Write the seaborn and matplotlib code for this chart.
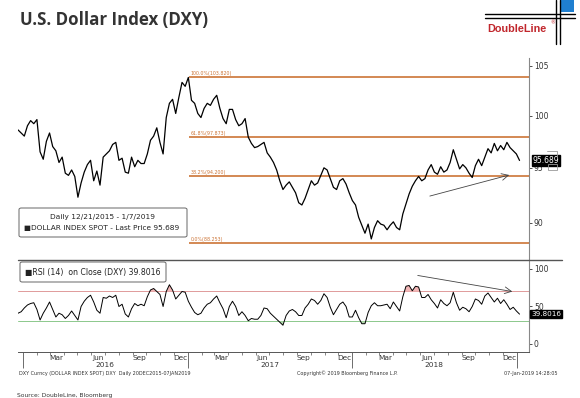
import numpy as np
import pandas as pd
import matplotlib
matplotlib.use("Agg")
import matplotlib.pyplot as plt
import matplotlib.dates as mdates
from matplotlib.ticker import FixedLocator, FuncFormatter, NullLocator
from matplotlib.patches import FancyBboxPatch, Rectangle
from matplotlib.lines import Line2D
from matplotlib.transforms import blended_transform_factory
import seaborn as sns

sns.set_theme(style="white")
plt.rcParams["font.family"] = ["DejaVu Sans"]

# ---------------- data (weekly readings, 12/21/2015 .. 1/7/2019) ----------------
start_date = "2015-12-21"
price = [
    98.6, 98.3, 98.0, 99.0, 99.5, 99.2, 99.6, 96.5, 95.8, 97.5,
    98.3, 97.0, 96.6, 95.5, 96.0, 94.5, 94.3, 94.8, 94.2, 92.3,
    93.6, 94.6, 95.3, 95.7, 93.8, 94.7, 93.4, 96.0, 96.3, 96.6,
    97.2, 97.4, 95.7, 95.9, 94.6, 94.5, 96.0, 95.1, 95.7, 95.4,
    95.4, 96.3, 97.6, 98.0, 98.8, 97.4, 96.3, 99.8, 101.2, 101.6,
    100.2, 101.8, 103.3, 102.9, 103.8, 101.5, 101.2, 100.2, 99.8, 100.7,
    101.2, 101.0, 101.6, 102.0, 100.7, 99.7, 99.2, 100.6, 100.6, 99.6,
    99.0, 99.2, 99.7, 97.9, 97.3, 96.9, 97.0, 97.2, 97.4, 96.4,
    96.0, 95.5, 94.8, 93.8, 93.0, 93.4, 93.7, 93.2, 92.7, 91.8,
    91.6, 92.2, 93.0, 93.8, 93.4, 93.6, 94.3, 95.0, 94.8, 94.0,
    93.2, 93.0, 93.8, 94.0, 93.5, 92.7, 92.0, 91.6, 90.5, 89.8,
    89.1, 89.9, 88.6, 89.6, 90.2, 89.9, 89.8, 89.4, 89.8, 90.1,
    89.6, 89.4, 90.8, 91.7, 92.6, 93.3, 93.8, 94.2, 93.8, 94.0,
    94.8, 95.3, 94.6, 94.4, 95.1, 94.6, 94.8, 95.5, 96.7, 95.8,
    94.9, 95.3, 95.0, 94.5, 94.1, 95.2, 95.8, 95.2, 96.0, 96.8,
    96.4, 97.3, 96.6, 97.1, 96.7, 97.4, 96.9, 96.6, 96.3, 95.689,
]
rsi = [
    41, 43, 48, 52, 54, 55, 46, 32, 41, 48,
    56, 46, 36, 41, 39, 34, 38, 44, 38, 32,
    50, 57, 62, 65, 56, 45, 41, 62, 61, 64,
    62, 65, 50, 53, 40, 36, 47, 54, 51, 53,
    51, 63, 72, 74, 70, 66, 50, 70, 79, 72,
    60, 65, 70, 69, 57, 49, 42, 39, 41, 48,
    53, 55, 60, 64, 55, 47, 35, 50, 57, 50,
    38, 43, 38, 31, 34, 33, 33, 38, 48, 47,
    41, 37, 33, 29, 25, 38, 44, 46, 43, 38,
    38, 48, 53, 60, 58, 53, 58, 67, 62, 49,
    39, 46, 53, 56, 50, 36, 36, 45, 35, 27,
    27, 42, 51, 55, 51, 51, 52, 53, 47, 56,
    50, 44, 63, 77, 78, 71, 77, 76, 62, 62,
    66, 59, 54, 48, 59, 54, 51, 55, 69, 55,
    45, 49, 47, 43, 50, 60, 58, 53, 64, 68,
    62, 56, 61, 54, 59, 53, 46, 49, 44, 39.8016,
]
fib_levels = [103.820, 97.873, 94.200, 88.253]
fib_labels = ["100.0%(103.820)", "61.8%(97.873)", "38.2%(94.200)", "0.0%(88.253)"]
fib_start = "2017-01-03"
price_ticks = [90, 95, 100, 105]
rsi_ticks = [0, 50, 100]
month_labels = ["Mar", "Jun", "Sep", "Dec"]
year_labels = ["2016", "2017", "2018"]
last_price = 95.689
last_rsi = 39.8016

dates = pd.date_range(start_date, periods=len(price), freq="7D")
df = pd.DataFrame({"date": dates, "price": price, "rsi": rsi})

W, H = 580, 398
fig = plt.figure(figsize=(W / 100, H / 100), dpi=100)
fig.patch.set_facecolor("white")

def fx(x):
    return x / W

def fy(y):
    return 1 - y / H

L, R = 18, 529
ax1 = fig.add_axes([fx(L), fy(260), fx(R) - fx(L), fy(58) - fy(260)])
ax2 = fig.add_axes([fx(L), fy(352), fx(R) - fx(L), fy(260) - fy(352)], sharex=ax1)

ORANGE = "#cc7436"
xmin = pd.Timestamp("2015-12-21")
xmax = pd.Timestamp("2019-01-28")

# ---------------- price panel ----------------
sns.lineplot(data=df, x="date", y="price", ax=ax1, color="black", lw=0.9)
ax1.set_yscale("log")
ax1.set_ylim(86.79, 105.80)
ax1.set_xlim(xmin, xmax)
for lvl, lab in zip(fib_levels, fib_labels):
    ax1.hlines(lvl, mdates.date2num(pd.Timestamp(fib_start)), mdates.date2num(xmax),
               color=ORANGE, lw=1.2, zorder=1)
    ax1.annotate(lab, xy=(mdates.date2num(pd.Timestamp(fib_start)), lvl), xytext=(1.5, 1),
                 textcoords="offset points", fontsize=3.4, color=ORANGE, ha="left", va="bottom")

ax1.yaxis.tick_right()
ax1.yaxis.set_major_locator(FixedLocator(price_ticks))
ax1.yaxis.set_minor_locator(NullLocator())
ax1.yaxis.set_major_formatter(FuncFormatter(lambda v, p: f"{v:g}"))
ax1.tick_params(axis="y", which="major", right=True, left=False, direction="out",
                length=2.5, width=0.6, colors="#333", labelsize=5.5, pad=1)
ax1.tick_params(axis="x", which="both", bottom=False, labelbottom=False)
ax1.set_xlabel("")
ax1.set_ylabel("")
for s in ["left", "top", "bottom"]:
    ax1.spines[s].set_visible(False)
ax1.spines["right"].set_color("#888")
ax1.spines["right"].set_linewidth(0.8)

# trend arrow on price
ax1.annotate("", xy=(mdates.date2num(pd.Timestamp("2018-12-21")), 94.40),
             xytext=(mdates.date2num(pd.Timestamp("2018-06-16")), 92.34),
             arrowprops=dict(arrowstyle="->", color="#444", lw=0.6))

ax1.annotate(f"{last_price:.3f}", xy=(1.0, last_price), xycoords=("axes fraction", "data"),
             xytext=(2.5, 0), textcoords="offset points", ha="left", va="center",
             color="white", fontsize=5.5,
             bbox=dict(boxstyle="square,pad=0.12", fc="black", ec="black"))

# ---------------- RSI panel ----------------
sns.lineplot(data=df, x="date", y="rsi", ax=ax2, color="black", lw=0.7)
ax2.axhline(70, color="#e09a9a", lw=0.7, zorder=0)
ax2.axhline(30, color="#8cc88c", lw=0.7, zorder=0)
r = np.array(rsi, dtype=float)
ax2.fill_between(df["date"], r, 70, where=r > 70, interpolate=True, color="#f2b6b6", lw=0)
ax2.fill_between(df["date"], r, 30, where=r < 30, interpolate=True, color="#b6dcb0", lw=0)
ax2.set_ylim(-10.7, 112)
ax2.set_xlim(xmin, xmax)
ax2.yaxis.tick_right()
ax2.yaxis.set_major_locator(FixedLocator(rsi_ticks))
ax2.yaxis.set_major_formatter(FuncFormatter(lambda v, p: f"{v:g}"))
ax2.tick_params(axis="y", which="major", right=True, left=False, direction="out",
                length=2.5, width=0.6, colors="#333", labelsize=5.5, pad=1)
ax2.set_xlabel("")
ax2.set_ylabel("")
for s in ["left", "top"]:
    ax2.spines[s].set_visible(False)
ax2.spines["right"].set_color("#888")
ax2.spines["right"].set_linewidth(0.8)
ax2.spines["bottom"].set_color("#555")
ax2.spines["bottom"].set_linewidth(0.7)

ax2.xaxis.set_major_locator(mdates.YearLocator())
ax2.xaxis.set_minor_locator(mdates.MonthLocator())
ax2.xaxis.set_major_formatter(FuncFormatter(lambda v, p: ""))
ax2.tick_params(axis="x", which="major", bottom=True, direction="out", length=11.5,
                width=0.6, colors="#555")
ax2.tick_params(axis="x", which="minor", bottom=True, direction="out", length=2.2,
                width=0.5, colors="#555")

trans = blended_transform_factory(ax2.transData, ax2.transAxes)
for yr in year_labels:
    for m, lab in zip([3, 6, 9, 12], month_labels):
        d = mdates.date2num(pd.Timestamp(int(yr), m, 15))
        ax2.text(d, -0.06, lab, transform=trans, ha="center", va="center",
                 fontsize=5.3, color="#333")
    ax2.text(mdates.date2num(pd.Timestamp(int(yr), 7, 1)), -0.145, yr, transform=trans,
             ha="center", va="center", fontsize=5.3, color="#333")

ax2.annotate("", xy=(mdates.date2num(pd.Timestamp("2018-12-28")), 69.3),
             xytext=(mdates.date2num(pd.Timestamp("2018-05-20")), 92),
             arrowprops=dict(arrowstyle="->", color="#444", lw=0.6))

ax2.annotate(f"{last_rsi:.4f}", xy=(1.0, last_rsi), xycoords=("axes fraction", "data"),
             xytext=(1.5, 0), textcoords="offset points", ha="left", va="center",
             color="white", fontsize=5.2,
             bbox=dict(boxstyle="square,pad=0.12", fc="black", ec="black"))

# ---------------- figure decorations ----------------
fig.add_artist(Line2D([fx(18), fx(562)], [fy(260), fy(260)], color="#555", lw=1.0))

fig.add_artist(FancyBboxPatch((fx(19), fy(237)), fx(187) - fx(19), fy(208) - fy(237),
                              boxstyle="round,pad=0,rounding_size=0.004",
                              fc="white", ec="#666", lw=0.7))
fig.text(fx(103), fy(216.5), "Daily 12/21/2015 - 1/7/2019", ha="center", va="center",
         fontsize=5.3, color="#222")
fig.text(fx(24), fy(228), "\u25a0DOLLAR INDEX SPOT - Last Price 95.689", ha="left",
         va="center", fontsize=5.3, color="#222")

fig.add_artist(FancyBboxPatch((fx(20), fy(282)), fx(166) - fx(20), fy(262) - fy(282),
                              boxstyle="round,pad=0,rounding_size=0.004",
                              fc="white", ec="#666", lw=0.7))
fig.text(fx(25), fy(272), "\u25a0RSI (14)  on Close (DXY) 39.8016", ha="left",
         va="center", fontsize=5.6, color="#222")

fig.add_artist(Line2D([fx(547), fx(557), fx(557)], [fy(151), fy(151), fy(158)],
                      color="#999", lw=0.6))
fig.add_artist(Rectangle((fx(548), fy(170)), fx(557) - fx(548), fy(164) - fy(170),
                         fc="none", ec="#999", lw=0.6))

fig.text(fx(19), fy(373), "DXY Curncy (DOLLAR INDEX SPOT) DXY  Daily 20DEC2015-07JAN2019",
         fontsize=3.5, color="#333", ha="left", va="center")
fig.text(fx(297), fy(373), "Copyright\u00a9 2019 Bloomberg Finance L.P.",
         fontsize=3.5, color="#333", ha="left", va="center")
fig.text(fx(504), fy(373), "07-Jan-2019 14:28:05",
         fontsize=3.5, color="#333", ha="left", va="center")
fig.text(fx(17), fy(395), "Source: DoubleLine, Bloomberg",
         fontsize=4.3, color="#333", ha="left", va="center")

fig.text(fx(20), fy(20), "U.S. Dollar Index (DXY)", fontsize=12.2, fontweight="bold",
         color="#333", ha="left", va="center", family=["Open Sans", "DejaVu Sans"])

fig.add_artist(Rectangle((fx(560), fy(12)), fx(574) - fx(560), fy(0) - fy(12),
                         fc="#1f7fd0", ec="none"))
for yy in [13.5, 17.5]:
    fig.add_artist(Line2D([fx(485), fx(575)], [fy(yy), fy(yy)], color="black", lw=1.0))
for xx in [556, 560]:
    fig.add_artist(Line2D([fx(xx), fx(xx)], [fy(0), fy(44)], color="black", lw=1.0))
fig.text(fx(487), fy(29), "DoubleLine", fontsize=7.8, fontweight="bold", color="#c1272d",
         ha="left", va="center", family=["Liberation Sans", "DejaVu Sans"])
fig.text(fx(550), fy(23), "\u00ae", fontsize=3.5, color="#c1272d", ha="left", va="center")

fig.savefig("out.png", dpi=100, facecolor="white")
